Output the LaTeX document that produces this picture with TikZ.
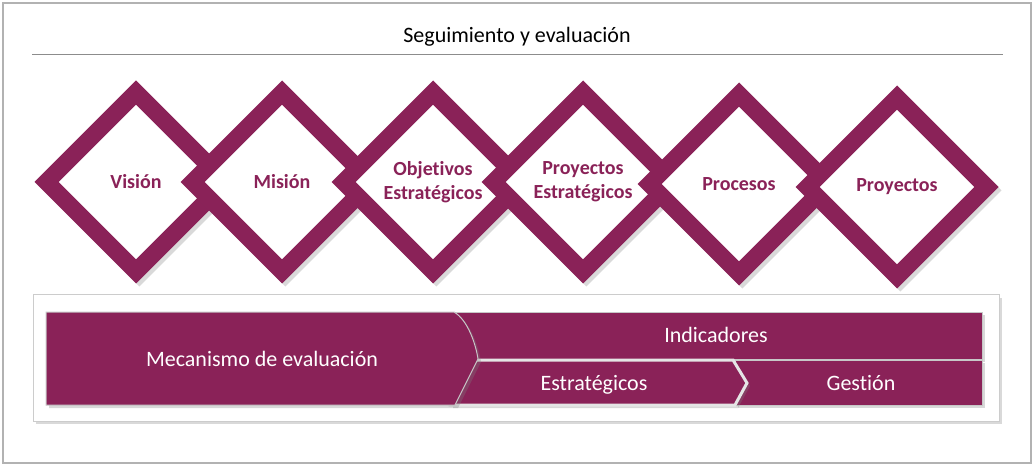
\documentclass[tikz,border=0pt]{standalone}
\usepackage{fontspec}
\setmainfont{Carlito}[Ligatures=NoCommon]
\usetikzlibrary{shapes.geometric,shadows}
\definecolor{plum}{RGB}{138,34,88}

\tikzset{
  rombo/.style={diamond, aspect=1, minimum size=186pt, inner sep=0pt, draw=plum, line width=17pt, fill=white, text=plum, align=center, font=\bfseries\fontsize{20}{24}\selectfont, drop shadow={shadow scale=1.13, shadow xshift=3pt, shadow yshift=-3pt, opacity=0.3}},
  barra/.style={fill=plum, draw=black!22, line width=1pt, drop shadow={shadow xshift=3pt, shadow yshift=-3pt, opacity=0.3}},
  rotulo/.style={text=white, anchor=base, font=\fontsize{22}{26}\selectfont},
}

\begin{document}
\begin{tikzpicture}[x=1pt, y=-1pt]
\useasboundingbox (0,0) rectangle (1034,465);
\draw[black!30, line width=1.5pt] (3,3) rectangle (1031,463);

\node[anchor=base, font=\fontsize{22}{26}\selectfont] (titulo) at (517,43) {Seguimiento y evaluación};
\draw[black!45, line width=1pt] (32,55) -- (1003,55);

\node[rombo] (vision) at (136,182) {Visión};
\node[rombo] (mision) at (282,182) {Misión};
\node[rombo] (objetivos) at (433,182) {Objetivos\\Estratégicos};
\node[rombo] (proyest) at (583,182) {Proyectos\\Estratégicos};
\node[rombo] (procesos) at (739,184) {Procesos};
\node[rombo] (proyectos) at (897,187) {Proyectos};

\node[fill=white, draw=black!20, line width=1pt, minimum width=966pt, minimum height=126pt, drop shadow={shadow xshift=3pt, shadow yshift=-3pt, opacity=0.3}] (marco) at (516,358) {};

% barras
\path[barra] (450,312) rectangle (982,359);
\path[barra] (735,360) rectangle (982,405);
\path[barra, draw=white!80!gray, line width=3pt] (450,360) -- (733,360) -- (747,383) -- (735,405) -- (450,405) -- cycle;
\path[barra] (46,312) -- (454,312) .. controls (468,320) and (476,345) .. (478,359) -- (455,405) -- (46,405) -- cycle;

\node[rotulo] (mecanismo) at (262,366) {Mecanismo de evaluación};
\node[rotulo] (indicadores) at (716,342) {Indicadores};
\node[rotulo] (estrategicos) at (594,390) {Estratégicos};
\node[rotulo] (gestion) at (861,390) {Gestión};
\end{tikzpicture}
\end{document}
